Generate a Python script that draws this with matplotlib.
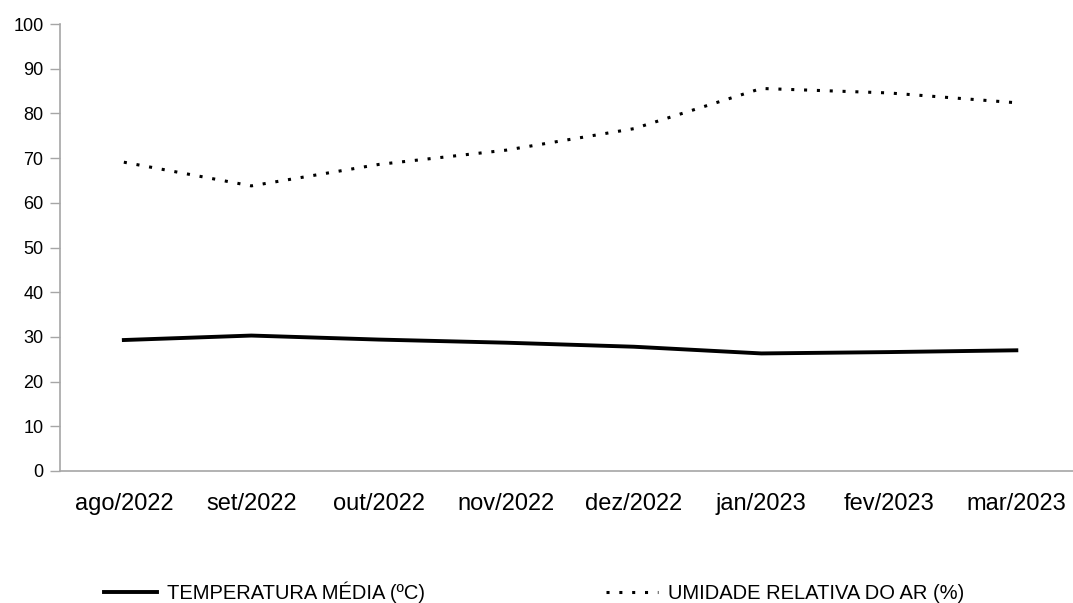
import matplotlib
matplotlib.use("Agg")
import matplotlib.pyplot as plt

plt.rcParams['font.family'] = ['Liberation Sans', 'DejaVu Sans']

meses = ["ago/2022", "set/2022", "out/2022", "nov/2022",
         "dez/2022", "jan/2023", "fev/2023", "mar/2023"]
temperatura = [29.3, 30.3, 29.4, 28.7, 27.8, 26.3, 26.6, 27.0]
umidade = [69.1, 63.8, 68.6, 71.8, 76.6, 85.6, 84.6, 82.4]
y_ticks = list(range(0, 101, 10))

fig = plt.figure(figsize=(10.73, 6.03), dpi=100)
ax = fig.add_axes([0.056, 0.219, 0.9506, 0.741])

x = list(range(len(meses)))
ax.plot(x, temperatura, color="black", linewidth=2.8,
        solid_joinstyle="round", label="TEMPERATURA MÉDIA (ºC)")
ax.plot(x, umidade, color="black", linewidth=2.2,
        linestyle=(0, (1, 3.2)), label="UMIDADE RELATIVA DO AR (%)")

ax.set_xlim(-0.5, len(meses) - 0.5)
ax.set_ylim(0, 100)
ax.set_yticks(y_ticks)
ax.set_xticks(x)
ax.set_xticklabels(meses, fontsize=17)
ax.tick_params(axis="y", labelsize=13, length=7, width=1,
               color="#a6a6a6", pad=5)
ax.tick_params(axis="x", length=0, pad=16)

for side in ("top", "right"):
    ax.spines[side].set_visible(False)
for side in ("left", "bottom"):
    ax.spines[side].set_color("#a6a6a6")
    ax.spines[side].set_linewidth(1.2)

fig.legend(loc="center", bbox_to_anchor=(0.498, 0.017), ncol=2,
           frameon=False, fontsize=14.5, handlelength=2.6,
           handletextpad=0.5, columnspacing=9)

fig.savefig("out.png", dpi=100)
